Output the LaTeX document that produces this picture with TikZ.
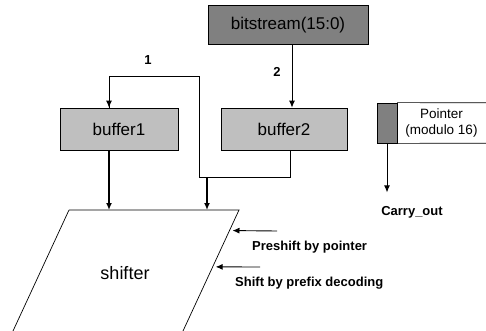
\documentclass[tikz,border=0pt]{standalone}
\usepackage{fontspec}
\setmainfont{Liberation Sans}
\usepackage{tikz}
\usetikzlibrary{arrows.meta,positioning,calc}

\begin{document}
\begin{tikzpicture}[
    x=1pt, y=-1pt,
    box1/.style={rectangle, draw=black, fill=black!50, thick, inner sep=0pt, align=center, font=\fontsize{17}{20}\selectfont},
    box2/.style={rectangle, draw=black, fill=black!25, thick, inner sep=0pt, align=center, font=\fontsize{17}{20}\selectfont},
    lbl/.style={font=\fontsize{13}{15}\selectfont\bfseries, inner sep=0pt},
    arrow/.style={-{Latex[length=7pt,width=6pt]}, line width=0.9pt, draw=black},
    thickarrow/.style={-{Latex[length=7pt,width=6pt]}, line width=1.6pt, draw=black},
    wire/.style={line width=0.7pt, draw=black}
]
    \useasboundingbox (0,0) rectangle (486,331);

    \node [box1, minimum width=160pt, minimum height=39pt] (n1) at (288,25) {bitstream(15:0)};
    \node [box2, minimum width=118pt, minimum height=42pt] (n2) at (119,129) {buffer1};
    \node [box2, minimum width=126pt, minimum height=42pt] (n3) at (284,129) {buffer2};

    % pointer register
    \node [inner sep=0pt, minimum width=89pt, minimum height=40pt, align=center, font=\fontsize{13.5}{16}\selectfont] (n4) at (441.5,123) {Pointer\\(modulo 16)};
    \node [rectangle, draw=black, fill=black!50, thick, minimum width=20pt, minimum height=40pt, inner sep=0pt] (n5) at (387,123) {};
    \draw [wire] (n4.north east) -- (n5.north east);
    \draw [wire] (n4.south east) -- (n5.south east);
    \node [lbl] (n6) at (412,212) {Carry\_out};
    \draw [arrow] (n5.south) -- ++(0,49) coordinate (co);

    % shifter
    \coordinate (s1) at (69,210);
    \coordinate (s2) at (239,210);
    \coordinate (s3) at (183,331);
    \coordinate (s4) at (13,331);
    \draw [wire] (s1) -- (s2) -- (s3) (s1) -- (s4);
    \node [font=\fontsize{18}{21}\selectfont] (n7) at (125,273) {shifter};

    % feedback path
    \coordinate (c1) at (199,76);
    \coordinate (c2) at (199,177);
    \draw [wire] (n3.south -| 290,0) |- (c2) -- (c1) -| (n2.north -| 109,0);
    \draw [arrow] (c1 -| 109,0) -- (n2.north -| 109,0);
    \draw [arrow] (n1.south -| 292,0) -- (n3.north -| 292,0);
    \node [lbl] (n8) at (148,60) {1};
    \node [lbl] (n9) at (277,72) {2};

    \draw [thickarrow] (n2.south -| 109,0) -- (s1 -| 109,0);
    \draw [thickarrow] (c2 -| 207,0) -- (s1 -| 207,0);

    % shift controls
    \node [lbl, anchor=west] (n10) at (252,247) {Preshift by pointer};
    \node [lbl, anchor=west] (n11) at (235,283) {Shift by prefix decoding};
    \coordinate (a1) at (277,231);
    \coordinate (a2) at (260,267);
    \draw [arrow] (a1) -- ($(s2)!0.17!(s3) + (3,0)$);
    \draw [arrow] (a2) -- ($(s2)!0.47!(s3) + (3,0)$);
\end{tikzpicture}
\end{document}
